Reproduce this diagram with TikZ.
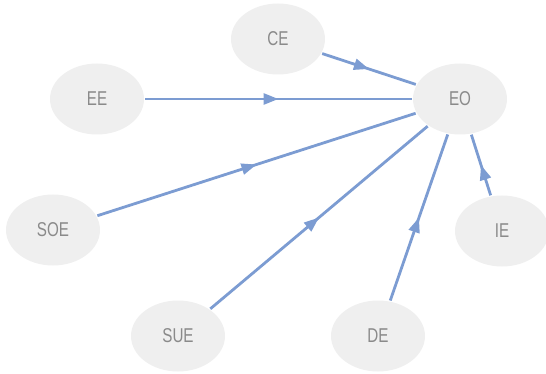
\documentclass[tikz,border=0pt]{standalone}
\usepackage{fontspec}
\setmainfont{Liberation Sans}[FakeStretch=0.76]
\usetikzlibrary{arrows.meta,decorations.markings,shapes.geometric}
\definecolor{nodefill}{HTML}{EFEFEF}
\definecolor{nodetext}{HTML}{8A8A8A}
\definecolor{edgeblue}{HTML}{7C9CD2}
\tikzset{
  bubble/.style={ellipse, fill=nodefill, draw=none, minimum width=94pt, minimum height=71pt,
    inner sep=0pt, text=nodetext, font=\fontsize{20}{20}\selectfont},
  link/.style={draw=edgeblue, line width=2.8pt, shorten <=1pt, shorten >=1pt,
    postaction={decorate},
    decoration={markings, mark=at position 0.5 with {\arrow[edgeblue]{Triangle[length=15pt,width=11pt]}}}}
}
\begin{document}
\begin{tikzpicture}[x=1pt,y=-1pt]
  \useasboundingbox (0,0) rectangle (546,374);
  \node[bubble] (CE)  at (278,39)  {CE};
  \node[bubble] (EE)  at (97,99)   {EE};
  \node[bubble] (EO)  at (460,99)  {EO};
  \node[bubble] (SOE) at (53,230)  {SOE};
  \node[bubble] (IE)  at (502,231) {IE};
  \node[bubble] (SUE) at (178,336) {SUE};
  \node[bubble] (DE)  at (378,336) {DE};
  \path[link] (CE)  -- (EO);
  \path[link] (EE)  -- (EO);
  \path[link] (SOE) -- (EO);
  \path[link] (SUE) -- (EO);
  \path[link] (DE)  -- (EO);
  \path[link] (IE)  -- (EO);
\end{tikzpicture}
\end{document}
